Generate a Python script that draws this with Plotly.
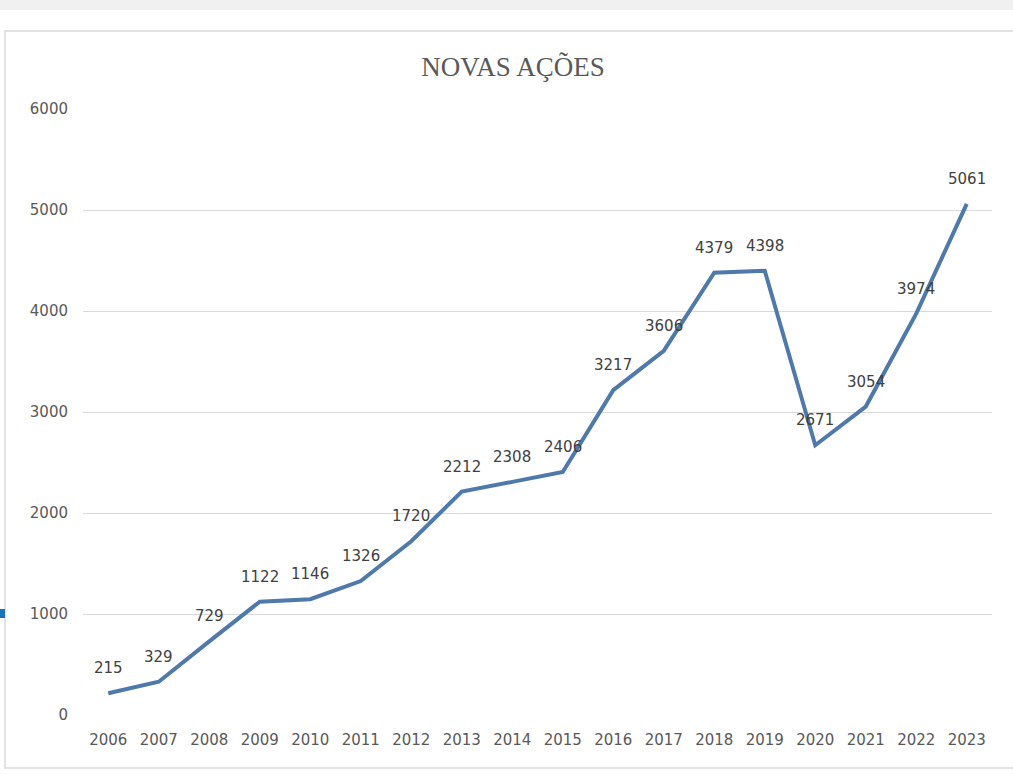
import plotly.graph_objects as go

years = ["2006", "2007", "2008", "2009", "2010", "2011", "2012", "2013", "2014",
         "2015", "2016", "2017", "2018", "2019", "2020", "2021", "2022", "2023"]
values = [215, 329, 729, 1122, 1146, 1326, 1720, 2212, 2308,
          2406, 3217, 3606, 4379, 4398, 2671, 3054, 3974, 5061]
y_ticks = [0, 1000, 2000, 3000, 4000, 5000, 6000]

W, H = 1013, 776
L, R, T, B = 83, 992, 109, 715


def px(x):
    return (x - L) / (R - L)


def py(y):
    return (B - y) / (B - T)


fig = go.Figure()
fig.add_trace(go.Scatter(
    x=years, y=values, mode="lines",
    line=dict(color="#4f79aa", width=4),
    hoverinfo="skip", showlegend=False,
))

annotations = [
    dict(x=i, y=v, xref="x", yref="y", text=str(v), showarrow=False,
         yanchor="middle", yshift=25,
         font=dict(family="DejaVu Sans", size=15, color="#404040"))
    for i, v in enumerate(values)
]

shapes = [
    dict(type="rect", xref="paper", yref="paper", x0=px(-5), x1=px(W + 5), y0=py(0), y1=py(10),
         fillcolor="#f0f0f0", line=dict(width=0), layer="below"),
    dict(type="rect", xref="paper", yref="paper", x0=px(5), x1=px(W + 5), y0=py(31), y1=py(768),
         fillcolor="rgba(0,0,0,0)", line=dict(color="#d9d9d9", width=1.5), layer="below"),
    dict(type="rect", xref="paper", yref="paper", x0=px(0), x1=px(5), y0=py(609), y1=py(618),
         fillcolor="#1873b8", line=dict(width=0)),
]

fig.update_layout(
    width=W, height=H,
    margin=dict(l=L, r=W - R, t=T, b=H - B),
    paper_bgcolor="white", plot_bgcolor="white",
    title=dict(text="NOVAS AÇÕES", x=513 / W, xanchor="center", y=1 - 67 / H, yanchor="middle",
               font=dict(family="Liberation Serif", size=27, color="#595959")),
    xaxis=dict(type="category", range=[-0.5, 17.5], showgrid=False, zeroline=False,
               showline=False, ticks="", ticklabelstandoff=14,
               tickfont=dict(family="DejaVu Sans", size=15, color="#595959")),
    yaxis=dict(range=[0, 6000], tickvals=y_ticks, ticktext=[str(t) for t in y_ticks],
               showgrid=True, gridcolor="#d9d9d9", gridwidth=1, zeroline=False,
               showline=False, ticks="", ticklabelstandoff=14,
               tickfont=dict(family="DejaVu Sans", size=15, color="#595959")),
    shapes=shapes,
    annotations=annotations,
)

fig.write_html("out.html", config={"displayModeBar": False},
               post_script="document.body.style.margin='0px';")
